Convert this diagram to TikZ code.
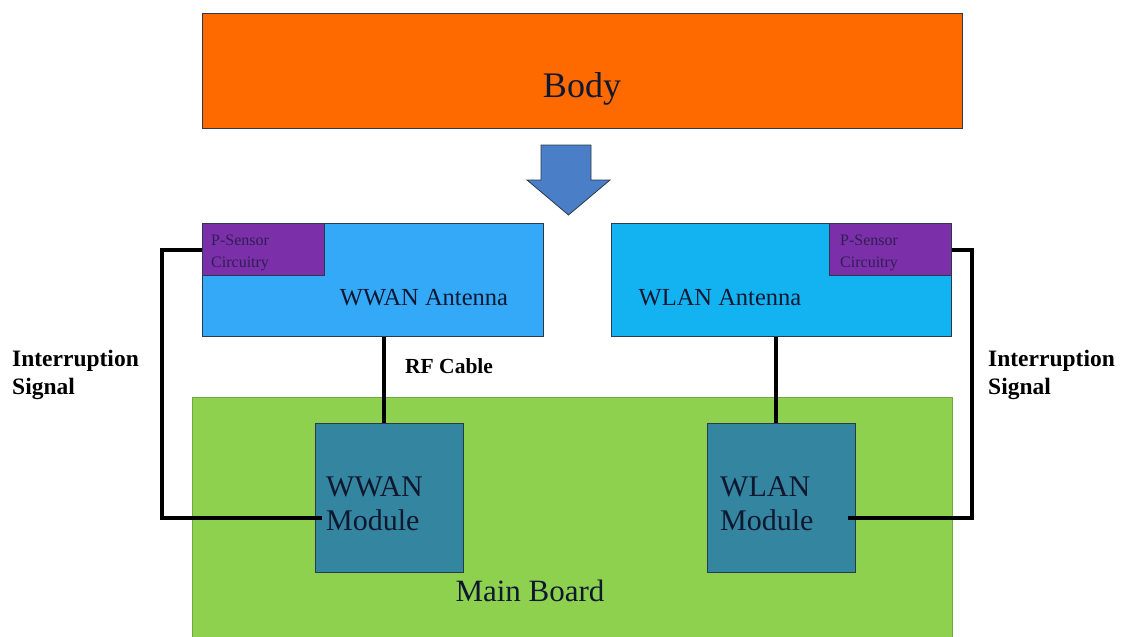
\documentclass[tikz,border=0pt]{standalone}
\usepackage{fontspec}
\setmainfont{Liberation Serif}
\definecolor{bodyc}{HTML}{FF6A00}
\definecolor{wwanc}{HTML}{33A9F8}
\definecolor{wlanc}{HTML}{12B3F0}
\definecolor{psc}{HTML}{7B2FA8}
\definecolor{mbc}{HTML}{8DD14F}
\definecolor{modc}{HTML}{3485A0}
\definecolor{arrc}{HTML}{4A7EC6}
\definecolor{edgec}{HTML}{2A3A4A}
\definecolor{txtc}{HTML}{101830}
\tikzset{
  box/.style={draw=edgec, line width=0.8pt, inner sep=0pt, anchor=north west},
  wire/.style={line width=3.5pt, black, line cap=butt, line join=miter},
  lbl/.style={text=txtc, inner sep=0pt, anchor=base},
  mlbl/.style={text=txtc, inner sep=0pt, anchor=base west, font=\fontsize{30}{34}\selectfont},
  pslbl/.style={text=txtc!70!psc, inner sep=0pt, anchor=base west, font=\fontsize{16}{20}\selectfont},
  blbl/.style={text=black, inner sep=0pt, anchor=base west, font=\fontsize{23.5}{28}\selectfont\bfseries},
}
\begin{document}
\begin{tikzpicture}[x=1pt,y=-1pt]
\useasboundingbox (0,0) rectangle (1128,637);
% Body
\node[box, fill=bodyc, minimum width=760pt, minimum height=115pt] (body) at (202,13) {};
\node[lbl, font=\fontsize{36}{40}\selectfont] (bodyt) at (582,97) {Body};
% arrow
\draw[draw=edgec, fill=arrc, line width=0.8pt, line join=miter]
  (541,145) -- (591,145) -- (591,180) -- (610,180) -- (568.5,215) -- (527,180) -- (541,180) -- cycle;
% antennas
\node[box, fill=wwanc, minimum width=341pt, minimum height=113pt] (wwana) at (202,223) {};
\node[box, fill=psc, minimum width=122pt, minimum height=52pt] (ps1) at (202,223) {};
\node[box, fill=wlanc, minimum width=340pt, minimum height=113pt] (wlana) at (611,223) {};
\node[box, fill=psc, minimum width=122pt, minimum height=52pt] (ps2) at (829,223) {};
\node[lbl, font=\fontsize{24.5}{28}\selectfont] (wwant) at (424,305) {WWAN Antenna};
\node[lbl, font=\fontsize{24.5}{28}\selectfont] (wlant) at (720,305) {WLAN Antenna};
\node[pslbl] (ps1a) at (211,245) {P-Sensor};
\node[pslbl] (ps1b) at (211,267) {Circuitry};
\node[pslbl] (ps2a) at (840,245) {P-Sensor};
\node[pslbl] (ps2b) at (840,267) {Circuitry};
% main board
\node[box, fill=mbc, draw=mbc!80!black, minimum width=760pt, minimum height=245pt] (mb) at (192,397) {};
\node[lbl, font=\fontsize{31}{34}\selectfont] (mbt) at (530,601) {Main Board};
% modules
\node[box, fill=modc, minimum width=148pt, minimum height=149pt] (m1) at (315,423) {};
\node[box, fill=modc, minimum width=148pt, minimum height=149pt] (m2) at (707,423) {};
\node[mlbl] (m1a) at (326,496) {WWAN};
\node[mlbl] (m1b) at (326,530) {Module};
\node[mlbl] (m2a) at (720,496) {WLAN};
\node[mlbl] (m2b) at (720,530) {Module};
% wires
\coordinate (l1) at (162,250);
\coordinate (l2) at (162,518);
\coordinate (r1) at (972,250);
\coordinate (r2) at (972,518);
\draw[wire] (ps1.west |- l1) -- (l1) -- (l2) -- (322,518);
\draw[wire] (ps2.east |- r1) -- (r1) -- (r2) -- (848,518);
\draw[wire] (wwana.south -| 384,0) -- (m1.north -| 384,0);
\draw[wire] (wlana.south -| 776,0) -- (m2.north -| 776,0);
% labels
\node[blbl, font=\fontsize{21.5}{28}\selectfont\bfseries] (rf) at (405,373) {RF Cable};
\node[blbl] (is1a) at (12,366) {Interruption};
\node[blbl] (is1b) at (12,394) {Signal};
\node[blbl] (is2a) at (988,366) {Interruption};
\node[blbl] (is2b) at (988,394) {Signal};
\end{tikzpicture}
\end{document}
